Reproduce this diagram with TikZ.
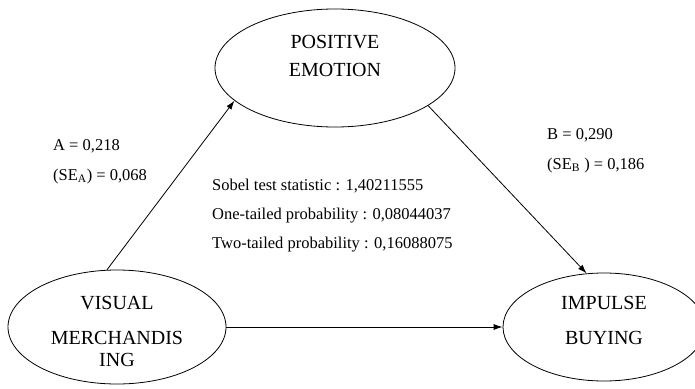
\documentclass[tikz,border=0pt]{standalone}
\usepackage{fontspec}
\setmainfont{Liberation Serif}
\usetikzlibrary{shapes.geometric,arrows.meta}
\tikzset{
  oval/.style={ draw, ellipse, line width=0.8pt, inner sep=0pt },
  ovaltext/.style={ align=center, inner sep=0pt, font=\fontsize{20}{22}\selectfont },
  stat/.style={ anchor=base west, inner sep=0pt, font=\fontsize{16.5}{18}\selectfont },
  arr/.style={ line width=0.8pt, -{Latex[length=9pt,width=6pt]} }
}
\begin{document}
\begin{tikzpicture}[ x=1pt, y=-1pt ]
  \useasboundingbox (0,0) rectangle (695,388);
  \node [ oval, minimum width=240pt, minimum height=118pt ] (pe) at (335,68) {};
  \node [ oval, minimum width=218pt, minimum height=114pt ] (vm) at (117,327) {};
  \node [ oval, minimum width=202pt, minimum height=108pt ] (ib) at (604,327) {};
  \node [ ovaltext ] (petext) at (335,56) { POSITIVE\\[6pt]EMOTION };
  \node [ ovaltext ] (vmtext) at (117,331) { VISUAL\\[13pt]MERCHANDIS\\ING };
  \node [ ovaltext ] (ibtext) at (604,320) { IMPULSE\\[13pt]BUYING };

  \draw [ arr ] (vm.100) -- (pe.198);
  \draw [ arr ] (pe.338) -- (ib.108);
  \draw [ arr ] (vm) -- (ib);

  \node [ stat ] (a) at (53,150) { A = 0,218 };
  \node [ stat ] (sea) at (53,180) { (SE\textsubscript{A}) = 0,068 };
  \node [ stat ] (b) at (547,139) { B = 0,290 };
  \node [ stat ] (seb) at (547,169) { (SE\textsubscript{B} ) = 0,186 };
  \node [ stat ] (sobel) at (212,190) { Sobel test statistic : 1,40211555 };
  \node [ stat ] (onetail) at (212,219) { One-tailed probability : 0,08044037 };
  \node [ stat ] (twotail) at (212,248) { Two-tailed probability : 0,16088075 };
\end{tikzpicture}
\end{document}
